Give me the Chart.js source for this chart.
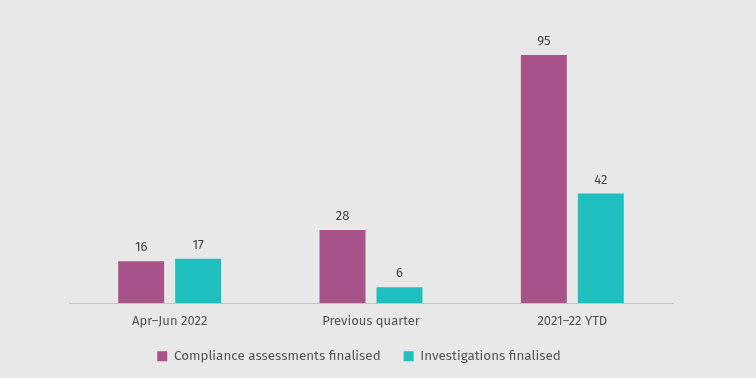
<!DOCTYPE html>
<html><head><meta charset="utf-8">
<script src="https://cdn.jsdelivr.net/npm/chart.js@4"></script>
<style>html,body{margin:0;padding:0;background:#e8e8e8;}canvas{display:block;}</style>
</head><body>
<canvas id="c" width="756" height="378"></canvas>
<script>
const categories = ["Apr\u2013Jun 2022", "Previous quarter", "2021\u201322 YTD"];
const complianceAssessments = [16, 28, 95];
const investigations = [17, 6, 42];
const seriesNames = ["Compliance assessments finalised", "Investigations finalised"];

const FONT = "'Fira Sans', 'Open Sans', 'Noto Sans', sans-serif";

const bgPlugin = {
  id: 'bg',
  beforeDraw(chart) {
    const ctx = chart.ctx;
    ctx.save();
    ctx.fillStyle = '#e8e8e8';
    ctx.fillRect(0, 0, chart.width, chart.height);
    ctx.restore();
  }
};
const legendShift = {
  id: 'legendShift',
  afterLayout(chart) {
    if (chart.legend) {
      chart.legend.top -= 6;
      chart.legend.bottom -= 6;
    }
  }
};
const labelPlugin = {
  id: 'vals',
  afterDatasetsDraw(chart) {
    const ctx = chart.ctx;
    ctx.save();
    ctx.font = '13px ' + FONT;
    ctx.fillStyle = '#444';
    ctx.textAlign = 'center';
    ctx.textBaseline = 'bottom';
    chart.data.datasets.forEach((ds, i) => {
      chart.getDatasetMeta(i).data.forEach((el, j) => {
        ctx.fillText(String(ds.data[j]), el.x, el.y - 7);
      });
    });
    ctx.restore();
  }
};

new Chart(document.getElementById('c'), {
  type: 'bar',
  data: {
    labels: categories,
    datasets: [
      { label: seriesNames[0], data: complianceAssessments, backgroundColor: '#a8548a' },
      { label: seriesNames[1], data: investigations, backgroundColor: '#1fbfc0' }
    ]
  },
  options: {
    responsive: false,
    animation: false,
    devicePixelRatio: 1,
    layout: { padding: { left: 45, right: 83, top: 42, bottom: -1 } },
    categoryPercentage: 0.566,
    barPercentage: 0.807,
    plugins: {
      legend: {
        position: 'bottom',
        labels: {
          boxWidth: 10, boxHeight: 10, padding: 23,
          color: '#555',
          font: { family: FONT, size: 13.4 }
        }
      },
      tooltip: { enabled: false }
    },
    scales: {
      x: {
        grid: { display: false },
        border: { display: true, color: '#c4c4c4', dash: [2, 2] },
        ticks: { color: '#555', font: { family: FONT, size: 13 }, padding: 3 }
      },
      y: {
        display: true, min: 0, max: 100,
        grid: { display: false },
        border: { display: false },
        ticks: { display: false },
        afterFit(scale) { scale.width = 24; }
      }
    }
  },
  plugins: [bgPlugin, legendShift, labelPlugin]
});
</script>
</body></html>
